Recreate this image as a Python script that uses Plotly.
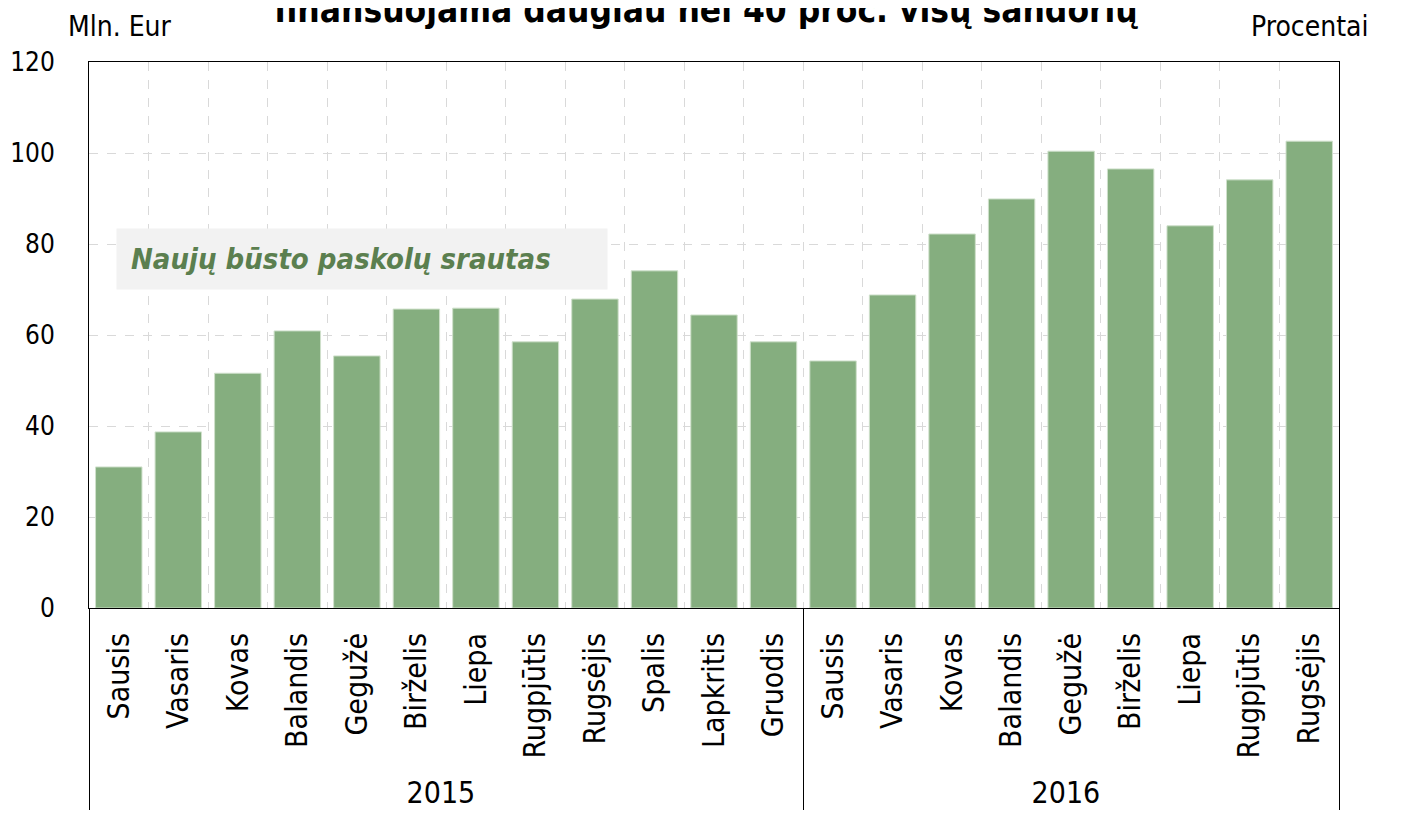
import plotly.graph_objects as go

years = ["2015"] * 12 + ["2016"] * 9
months = ["Sausis", "Vasaris", "Kovas", "Balandis", "Gegužė", "Birželis", "Liepa",
          "Rugpjūtis", "Rugsėjis", "Spalis", "Lapkritis", "Gruodis",
          "Sausis", "Vasaris", "Kovas", "Balandis", "Gegužė", "Birželis", "Liepa",
          "Rugpjūtis", "Rugsėjis"]
loan_flow = [31.0, 38.7, 51.6, 60.9, 55.4, 65.7, 65.9, 58.5, 67.9, 74.1, 64.4, 58.5,
             54.3, 68.8, 82.2, 89.9, 100.4, 96.5, 84.0, 94.1, 102.6]
left_ticks = [0, 20, 40, 60, 80, 100, 120]
right_ticks = [15, 25, 35, 45, 55, 65, 75]

FONT = "Liberation Sans Narrow, Arial Narrow, DejaVu Sans Condensed, sans-serif"
CLEAR = "rgba(0,0,0,0)"

fig = go.Figure()
fig.add_trace(go.Bar(
    x=[years, months], y=loan_flow,
    marker=dict(color="#85AE7F", line=dict(color="#CFE0CB", width=1)),
    showlegend=False,
))

fig.update_layout(
    width=1412, height=816,
    margin=dict(l=81, r=81, t=54, b=216),
    paper_bgcolor="white", plot_bgcolor="white",
    font=dict(family=FONT, size=30, color="black"),
    bargap=0.22,
    xaxis=dict(
        type="multicategory",
        range=[-0.5, len(months) - 0.5],
        autorange=False,
        automargin=False,
        tickson="boundaries",
        showgrid=True, gridcolor="#D9D9D9", griddash="dash", gridwidth=1,
        showline=True, linecolor="black", linewidth=1, mirror=True,
        ticks="", tickangle=-90, ticklabelstandoff=12,
        tickfont=dict(family=FONT, size=30),
        showdividers=True, dividercolor="black", dividerwidth=1,
    ),
    yaxis=dict(
        range=[0, 120], tickvals=left_ticks, automargin=False,
        showgrid=True, gridcolor="#D9D9D9", griddash="dash", gridwidth=1,
        showline=True, linecolor="black", linewidth=1, mirror=True,
        ticks="outside", ticklen=28, tickcolor=CLEAR, zeroline=False,
        tickfont=dict(family=FONT, size=26),
    ),
    yaxis2=dict(
        overlaying="y", side="right", automargin=False,
        range=[15, 75], tickvals=right_ticks,
        showgrid=False, zeroline=False, showline=False,
        ticks="outside", ticklen=28, tickcolor=CLEAR,
        tickfont=dict(family=FONT, size=28),
    ),
    annotations=[
        dict(text="Mln. Eur", xref="paper", yref="paper", x=0, y=1,
             xanchor="center", yanchor="bottom", yshift=17, xshift=31,
             showarrow=False, font=dict(family=FONT, size=28)),
        dict(text="Procentai", xref="paper", yref="paper", x=1, y=1,
             xanchor="center", yanchor="bottom", yshift=17, xshift=-30,
             showarrow=False, font=dict(family=FONT, size=28)),
        dict(text="<b>finansuojama daugiau nei 40 proc. visų sandorių</b>",
             xref="paper", yref="paper", x=0.5, y=1, xanchor="center", yanchor="bottom",
             yshift=30, xshift=-8, showarrow=False, font=dict(family=FONT, size=35)),
        dict(text="<b><i>Naujų būsto paskolų srautas</i></b>",
             xref="x", yref="y", x=["2015", "Gegužė"], y=76.8,
             xanchor="center", yanchor="middle", align="left",
             width=462, height=32, xshift=5,
             showarrow=False, bgcolor="#F2F2F2", borderpad=14,
             font=dict(family=FONT, size=29, color="#5B7F4F")),
    ],
)

fig.write_html("out.html")
